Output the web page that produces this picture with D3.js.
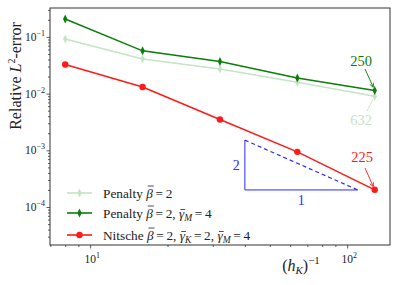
<!DOCTYPE html>
<html>
<head>
<meta charset="utf-8">
<script src="https://cdn.jsdelivr.net/npm/d3@7"></script>
<style>
  body { margin: 0; background: #fff; }
  svg { display: block; }
  svg text { font-family: "Liberation Serif", "DejaVu Serif", serif; }
</style>
</head>
<body>
<div class="Chart"></div>
<script>
const hInv = [8, 16, 32, 64, 128];
const penaltyLight = [0.092, 0.0407, 0.0271, 0.0158, 0.0090];
const penaltyDark = [0.207, 0.0568, 0.0369, 0.0188, 0.0114];
const nitsche = [0.0327, 0.0131, 0.0035, 0.00094, 0.000201];
const yTicks = [1e-4, 1e-3, 1e-2, 1e-1];
const yTickExp = ["-4", "-3", "-2", "-1"];
const xTicks = [10, 100];
const xTickExp = ["1", "2"];
const slopeX = [40, 110];
const slopeYBase = 2e-4;
const slopeOrder = 2;

const w = 399, h = 285;
const padL = 50, padR = 390, padT = 8, padB = 245;
const serif = "'Liberation Serif', 'DejaVu Serif', serif";

const xScale = d3.scaleLog().domain([6.98, 146.8]).range([padL, padR]);
const yScale = d3.scaleLog().domain([10 ** -4.67, 10 ** -0.49]).range([padB, padT]);

const svg = d3.select(".Chart").append("svg").attr("width", w).attr("height", h)
  .attr("font-family", serif);

// minor + major ticks
const xMinor = [], yMinor = [];
for (let e = 0; e <= 2; e++) for (let m = 2; m <= 9; m++) {
  const v = m * 10 ** e;
  if (v > 6.98 && v < 146.8) xMinor.push(v);
}
for (let e = -5; e <= -1; e++) for (let m = 2; m <= 9; m++) {
  const v = m * 10 ** e;
  if (v > 10 ** -4.67 && v < 10 ** -0.49) yMinor.push(v);
}

const axisColor = "#333";
svg.append("g").attr("transform", "translate(0," + padB + ")")
  .call(d3.axisBottom(xScale).tickValues(xTicks).tickSize(3.5).tickFormat(""));
svg.append("g").attr("transform", "translate(0," + padB + ")")
  .call(d3.axisBottom(xScale).tickValues(xMinor).tickSize(2).tickFormat(""));
svg.append("g").attr("transform", "translate(" + padL + ",0)")
  .call(d3.axisLeft(yScale).tickValues(yTicks).tickSize(3.5).tickFormat(""));
svg.append("g").attr("transform", "translate(" + padL + ",0)")
  .call(d3.axisLeft(yScale).tickValues(yMinor).tickSize(2).tickFormat(""));
svg.selectAll(".domain").remove();
svg.selectAll(".tick line").attr("stroke", axisColor).attr("stroke-width", 0.8);

svg.append("rect")
  .attr("x", padL).attr("y", padT)
  .attr("width", padR - padL).attr("height", padB - padT)
  .attr("fill", "none").attr("stroke", axisColor).attr("stroke-width", 1);

// tick labels
yTicks.forEach((v, i) => {
  const t = svg.append("text")
    .attr("x", padL - 5).attr("y", yScale(v) + 4)
    .attr("text-anchor", "end").attr("font-size", 11.5).attr("fill", "#222");
  t.append("tspan").text("10");
  t.append("tspan").attr("font-size", 8).attr("dy", -5).text(yTickExp[i].replace("-", "\u2212"));
});
xTicks.forEach((v, i) => {
  const t = svg.append("text")
    .attr("x", xScale(v) + 2).attr("y", padB + 18)
    .attr("text-anchor", "middle").attr("font-size", 11.5).attr("fill", "#222");
  t.append("tspan").text("10");
  t.append("tspan").attr("font-size", 8).attr("dy", -5).text(xTickExp[i]);
});

// axis labels
const yl = svg.append("text")
  .attr("transform", "translate(21,76) rotate(-90)")
  .attr("text-anchor", "middle").attr("font-size", 16).attr("fill", "#222");
yl.append("tspan").text("Relative ");
yl.append("tspan").attr("font-style", "italic").text("L");
yl.append("tspan").attr("font-size", 10).attr("dy", -6).text("2");
yl.append("tspan").attr("dy", 6).text("-error");

const xl = svg.append("text")
  .attr("x", 301).attr("y", 271)
  .attr("text-anchor", "middle").attr("font-size", 16).attr("fill", "#222");
xl.append("tspan").text("(");
xl.append("tspan").attr("font-style", "italic").text("h");
xl.append("tspan").attr("font-style", "italic").attr("font-size", 11).attr("dy", 3).text("K");
xl.append("tspan").attr("dy", -3).text(")");
xl.append("tspan").attr("font-size", 11).attr("dy", -7).text("\u22121");

// series
const line = d3.line().x(d => xScale(d[0])).y(d => yScale(d[1]));
const series = [
  { vals: penaltyLight, color: "#c5e3c5", marker: "diamond" },
  { vals: penaltyDark, color: "#0a7d0a", marker: "diamond" },
  { vals: nitsche, color: "#ff1a1a", marker: "circle" }
];
const diamond = "M0,-4.5L2.2,0L0,4.5L-2.2,0Z";
series.forEach(s => {
  const pts = hInv.map((x, i) => [x, s.vals[i]]);
  svg.append("path").attr("d", line(pts))
    .attr("fill", "none").attr("stroke", s.color).attr("stroke-width", 1.5);
  pts.forEach(p => {
    if (s.marker === "circle") {
      svg.append("circle").attr("cx", xScale(p[0])).attr("cy", yScale(p[1]))
        .attr("r", 3.2).attr("fill", s.color);
    } else {
      svg.append("path").attr("d", diamond)
        .attr("transform", "translate(" + xScale(p[0]) + "," + yScale(p[1]) + ")")
        .attr("fill", s.color);
    }
  });
});

// slope triangle
const blue = "#2a2aff";
const yTop = slopeYBase * (slopeX[1] / slopeX[0]) ** slopeOrder;
svg.append("path")
  .attr("d", "M" + xScale(slopeX[0]) + "," + yScale(yTop) +
    "L" + xScale(slopeX[0]) + "," + yScale(slopeYBase) +
    "L" + xScale(slopeX[1]) + "," + yScale(slopeYBase))
  .attr("fill", "none").attr("stroke", blue).attr("stroke-width", 1);
svg.append("line")
  .attr("x1", xScale(slopeX[0])).attr("y1", yScale(yTop))
  .attr("x2", xScale(slopeX[1])).attr("y2", yScale(slopeYBase))
  .attr("stroke", blue).attr("stroke-width", 1.2).attr("stroke-dasharray", "4,3");
svg.append("text").attr("x", xScale(slopeX[0]) - 5)
  .attr("y", (yScale(yTop) + yScale(slopeYBase)) / 2 + 5)
  .attr("text-anchor", "end").attr("font-size", 14).attr("fill", blue).text(slopeOrder);
svg.append("text")
  .attr("x", xScale(Math.sqrt(slopeX[0] * slopeX[1])))
  .attr("y", yScale(slopeYBase) + 15)
  .attr("text-anchor", "middle").attr("font-size", 14).attr("fill", blue).text("1");

// annotations
const last = hInv.length - 1;
const annos = [
  { text: "250", color: "#0a7d0a", val: penaltyDark[last], tx: 361, ty: 66, ax: 365, ay: 69, arrow: true },
  { text: "632", color: "#c5e3c5", val: penaltyLight[last], tx: 361, ty: 125, ax: 367, ay: 111, arrow: false },
  { text: "225", color: "#ff1a1a", val: nitsche[last], tx: 362, ty: 162, ax: 365, ay: 168, arrow: true }
];
annos.forEach(a => {
  svg.append("text").attr("x", a.tx).attr("y", a.ty)
    .attr("text-anchor", "middle").attr("font-size", 14.5).attr("fill", a.color).text(a.text);
  const px = xScale(hInv[last]), py = yScale(a.val);
  const dx = px - a.ax, dy = py - a.ay, len = Math.hypot(dx, dy);
  const ex = px - dx / len * 3.5, ey = py - dy / len * 3.5;
  svg.append("line").attr("x1", a.ax).attr("y1", a.ay).attr("x2", ex).attr("y2", ey)
    .attr("stroke", a.color).attr("stroke-width", 0.9);
  if (a.arrow) {
    const ux = dx / len, uy = dy / len;
    const hx = ex - ux * 4, hy = ey - uy * 4;
    svg.append("path")
      .attr("d", "M" + ex + "," + ey + "L" + (hx - uy * 2) + "," + (hy + ux * 2) +
        "M" + ex + "," + ey + "L" + (hx + uy * 2) + "," + (hy - ux * 2))
      .attr("fill", "none").attr("stroke", a.color).attr("stroke-width", 0.9);
  }
});

// legend
const legendY = [193, 213, 235];
const legendParts = [
  [["Penalty ", null], ["\u03B2", "bar"], ["\u2009=\u20092", null]],
  [["Penalty ", null], ["\u03B2", "bar"], ["\u2009=\u20092, ", null], ["\u03B3", "bar"], ["M", "sub"], ["\u2009=\u20094", null]],
  [["Nitsche ", null], ["\u03B2", "bar"], ["\u2009=\u20092, ", null], ["\u03B3", "bar"], ["K", "sub"], ["\u2009=\u20092, ", null], ["\u03B3", "bar"], ["M", "sub"], ["\u2009=\u20094", null]]
];
series.forEach((s, i) => {
  const y = legendY[i];
  svg.append("line").attr("x1", 67).attr("x2", 92).attr("y1", y).attr("y2", y)
    .attr("stroke", s.color).attr("stroke-width", 1.6);
  if (s.marker === "circle") {
    svg.append("circle").attr("cx", 79.5).attr("cy", y).attr("r", 3.2).attr("fill", s.color);
  } else {
    svg.append("path").attr("d", diamond).attr("transform", "translate(79.5," + y + ")").attr("fill", s.color);
  }
  const t = svg.append("text").attr("x", 103).attr("y", y + 4.5)
    .attr("font-size", 13.3).attr("fill", "#222");
  let shifted = false;
  const bars = [];
  legendParts[i].forEach(p => {
    const sp = t.append("tspan").text(p[0]);
    if (p[1] === "bar") { sp.attr("font-style", "italic"); bars.push([sp, p[0]]); }
    if (p[1] === "sub") { sp.attr("font-style", "italic").attr("font-size", 9.5).attr("dy", 3); shifted = true; }
    else if (shifted) { sp.attr("dy", -3); shifted = false; }
  });
  // draw the macron over the barred greek letters
  bars.forEach(([sp, ch]) => {
    const n = sp.node();
    const start = n.getStartPositionOfChar(0);
    const end = n.getEndPositionOfChar(0);
    const by = ch === "\u03B2" ? y - 7 : y - 3.5;
    svg.append("line")
      .attr("x1", start.x + 1.5).attr("x2", end.x + 1)
      .attr("y1", by).attr("y2", by)
      .attr("stroke", "#222").attr("stroke-width", 0.8);
  });
});
</script>
</body>
</html>
